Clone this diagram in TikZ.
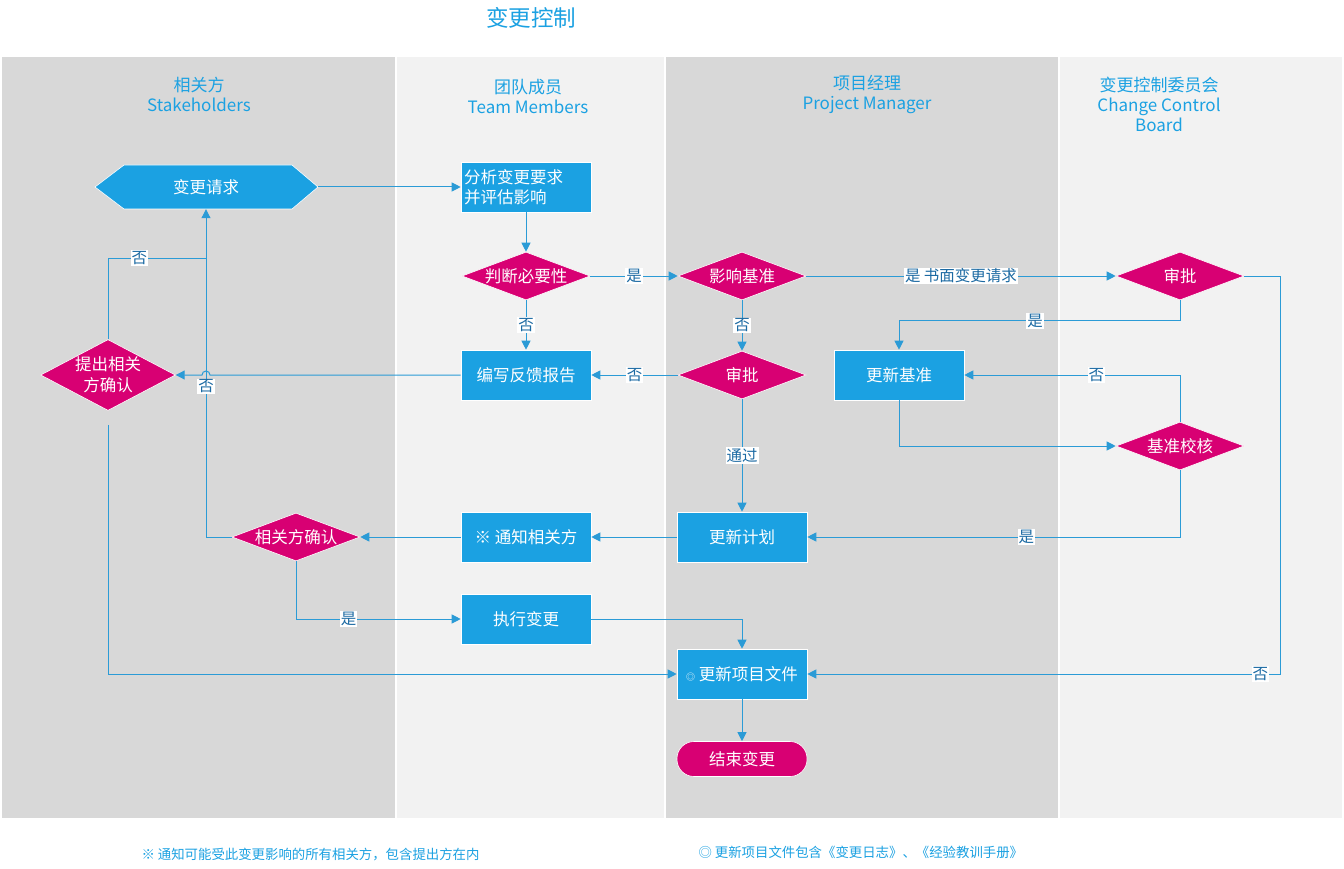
\documentclass[tikz,border=0pt]{standalone}
\usepackage{fontspec}
\setmainfont{Noto Sans CJK SC}
\usetikzlibrary{arrows.meta,shapes.geometric,calc}
\definecolor{laneDark}{HTML}{D8D8D8}
\definecolor{laneLight}{HTML}{F2F2F2}
\definecolor{flowBlue}{HTML}{1BA1E2}
\definecolor{lineBlue}{HTML}{2B9BD6}
\definecolor{decMag}{HTML}{D80073}
\definecolor{labBlue}{HTML}{1C6AA3}
\begin{document}
\begin{tikzpicture}[x=1pt,y=-1pt,
  font=\fontsize{16.5}{20}\selectfont,
  procbox/.style={rectangle, fill=flowBlue, draw=white, line width=0.6pt,
    minimum width=130pt, minimum height=50pt, text=white, inner sep=2pt},
  decision/.style={diamond, fill=decMag, draw=white, line width=0.6pt,
    minimum width=128pt, minimum height=48pt, aspect=2.67, inner sep=0pt, text=white},
  endbox/.style={rectangle, rounded corners=17pt, fill=decMag, draw=white,
    line width=0.6pt, minimum width=130pt, minimum height=35pt, text=white},
  flow/.style={draw=lineBlue, line width=1pt, -{Triangle[length=9pt,width=9pt]}},
  plain/.style={draw=lineBlue, line width=1pt},
  yesno/.style={fill=white, text=labBlue, inner sep=1pt, font=\fontsize{15.5}{17}\selectfont},
  lanehead/.style={text=flowBlue, align=center, font=\fontsize{17}{20}\selectfont},
  note/.style={text=flowBlue, font=\fontsize{13.4}{15}\selectfont, anchor=west}
]
\useasboundingbox (0,0) rectangle (1344,869);

% page and swimlanes
\fill[white] (0,0) rectangle (1344,869);
\fill[laneDark]  (2,57)    rectangle (395,818);
\fill[laneLight] (397,57)  rectangle (664,818);
\fill[laneDark]  (666,57)  rectangle (1058,818);
\fill[laneLight] (1060,57) rectangle (1342,818);

% title and lane headers
\node[text=flowBlue, font=\fontsize{22.5}{25}\selectfont] (title) at (531,18) {变更控制};
\node[lanehead] (h1) at (199,94)  {相关方\\Stakeholders};
\node[lanehead] (h2) at (528,96)  {团队成员\\Team Members};
\node[lanehead] (h3) at (867,94)  {项目经理\\Project Manager};
\node[lanehead] (h4) at (1159,104) {变更控制委员会\\Change Control\\Board};

% start: hexagonal request box
\coordinate (reqc) at (206,187);
\filldraw[fill=flowBlue, draw=white, line width=0.6pt]
  ($(reqc)+(-111,0)$) -- ($(reqc)+(-82,-22)$) -- ($(reqc)+(86,-22)$) --
  ($(reqc)+(112,0)$) -- ($(reqc)+(86,22)$) -- ($(reqc)+(-82,22)$) -- cycle;
\node[text=white, minimum width=223pt, minimum height=44pt, inner sep=0pt] (req) at (reqc) {变更请求};

% process steps and decisions
\node[procbox, align=left, text width=124pt] (ana) at (526,187) {分析变更要求\\并评估影响};
\node[decision] (need) at (526,276) {判断必要性};
\node[decision] (imp)  at (742,276) {影响基准};
\node[decision] (ccb)  at (1180,276) {审批};
\node[procbox]  (fb)   at (526,375) {编写反馈报告};
\node[decision] (pmok) at (742,375) {审批};
\node[decision, minimum width=130pt, minimum height=68pt, aspect=1.9, align=center,
      font=\fontsize{16.5}{21}\selectfont] (pc) at (108,375) {提出相关\\方确认};
\node[procbox]  (ub)   at (899,375) {更新基准};
\node[decision] (bj)   at (1180,446) {基准校核};
\node[decision] (sc)   at (296,537) {相关方确认};
\node[procbox]  (ntf)  at (526,537) {※ 通知相关方};
\node[procbox]  (up)   at (742,537) {更新计划};
\node[procbox]  (exe)  at (526,619) {执行变更};
\node[procbox]  (upf)  at (742,674) {{\fontsize{9}{9}\selectfont ◎} 更新项目文件};
\node[endbox]   (fin)  at (742,759) {结束变更};

% connectors
\coordinate (j1) at (206,258);
\draw[flow] (req.east) -- (ana.west);
\draw[flow] (ana.south) -- (need.north);
\draw[flow] (need.east) -- node[yesno]{是} (imp.west);
\draw[flow] (need.south) -- node[yesno]{否} (fb.north);
\draw[flow] (imp.east) -- node[yesno]{是 书面变更请求} (ccb.west);
\draw[flow] (imp.south) -- node[yesno]{否} (pmok.north);
\draw[flow] (pmok.west) -- node[yesno]{否} (fb.east);
\draw[flow] (pmok.south) -- node[yesno]{通过} (up.north);
\draw[flow] (up.west) -- (ntf.east);
\draw[flow] (ntf.west) -- (sc.east);
\draw[flow] (sc.west) -| node[yesno, pos=0.73]{否} (req.south);
\draw[plain] (pc.north) |- node[yesno, pos=0.66]{否} (j1);
\draw[flow] (fb.west) -- ($(req.south |- fb.west)+(4,0)$)
  arc[start angle=0, end angle=180, radius=4pt] -- (pc.east);
\draw[flow, shorten <=14pt] (pc.south) |- (upf.west);
\draw[flow] (sc.south) |- node[yesno, pos=0.66]{是} (exe.west);
\draw[flow] (exe.east) -| (upf.north);
\draw[flow] (upf.south) -- (fin.north);
\draw[flow] (ccb.south) |- node[yesno, pos=0.758]{是} ($(ub.north)+(0,-29)$) -- (ub.north);
\draw[flow] (ccb.east) -- ++(36,0) |- node[yesno, pos=0.521]{否} (upf.east);
\draw[flow] (ub.south) |- (bj.west);
\draw[flow] (bj.north) |- node[yesno, pos=0.694]{否} (ub.east);
\draw[flow] (bj.south) |- node[yesno, pos=0.706]{是} (up.east);

% footnotes
\node[note] (n1) at (138,855) {※ 通知可能受此变更影响的所有相关方，包含提出方在内};
\node[note] (n2) at (695,852) {◎ 更新项目文件包含《变更日志》、《经验教训手册》};
\end{tikzpicture}
\end{document}
